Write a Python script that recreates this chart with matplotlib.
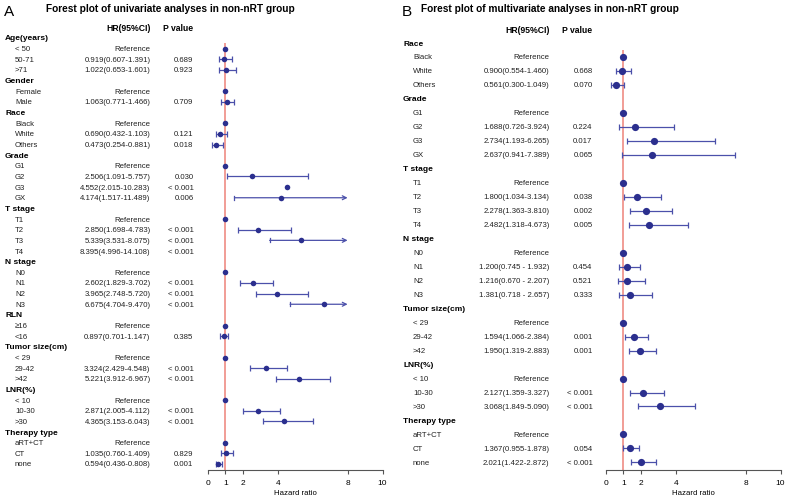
import matplotlib
matplotlib.use("Agg")
import matplotlib.pyplot as plt
from matplotlib.transforms import blended_transform_factory as btf

plt.rcParams['font.family'] = ['Liberation Sans', 'DejaVu Sans']

# ---------------- Panel A: univariate ----------------
a_groups = ["Age(years)", "Gender", "Race", "Grade", "T stage", "N stage",
            "RLN", "Tumor size(cm)", "LNR(%)", "Therapy type"]
a_levels = [["< 50", "50-71", ">71"], ["Female", "Male"],
            ["Black", "White", "Others"], ["G1", "G2", "G3", "GX"],
            ["T1", "T2", "T3", "T4"], ["N0", "N1", "N2", "N3"],
            ["≥16", "<16"], ["< 29", "29-42", ">42"],
            ["< 10", "10-30", ">30"], ["aRT+CT", "CT", "none"]]
a_hr = [[None, 0.919, 1.022], [None, 1.063], [None, 0.690, 0.473],
        [None, 2.506, 4.552, 4.174], [None, 2.850, 5.339, 8.395],
        [None, 2.602, 3.965, 6.675], [None, 0.897], [None, 3.324, 5.221],
        [None, 2.871, 4.365], [None, 1.035, 0.594]]
a_lo = [[None, 0.607, 0.653], [None, 0.771], [None, 0.432, 0.254],
        [None, 1.091, 2.015, 1.517], [None, 1.698, 3.531, 4.996],
        [None, 1.829, 2.748, 4.704], [None, 0.701], [None, 2.429, 3.912],
        [None, 2.005, 3.153], [None, 0.760, 0.436]]
a_hi = [[None, 1.391, 1.601], [None, 1.466], [None, 1.103, 0.881],
        [None, 5.757, 10.283, 11.489], [None, 4.783, 8.075, 14.108],
        [None, 3.702, 5.720, 9.470], [None, 1.147], [None, 4.548, 6.967],
        [None, 4.112, 6.043], [None, 1.409, 0.808]]
a_p = [[None, "0.689", "0.923"], [None, "0.709"], [None, "0.121", "0.018"],
       [None, "0.030", "< 0.001", "0.006"], [None, "< 0.001", "< 0.001", "< 0.001"],
       [None, "< 0.001", "< 0.001", "< 0.001"], [None, "0.385"],
       [None, "< 0.001", "< 0.001"], [None, "< 0.001", "< 0.001"],
       [None, "0.829", "0.001"]]
a_no_ci = ["G3"]          # interval not drawn in the original
a_spaced = []

# ---------------- Panel B: multivariate ----------------
b_groups = ["Race", "Grade", "T stage", "N stage", "Tumor size(cm)",
            "LNR(%)", "Therapy type"]
b_levels = [["Black", "White", "Others"], ["G1", "G2", "G3", "GX"],
            ["T1", "T2", "T3", "T4"], ["N0", "N1", "N2", "N3"],
            ["< 29", "29-42", ">42"], ["< 10", "10-30", ">30"],
            ["aRT+CT", "CT", "none"]]
b_hr = [[None, 0.900, 0.561], [None, 1.688, 2.734, 2.637],
        [None, 1.800, 2.278, 2.482], [None, 1.200, 1.216, 1.381],
        [None, 1.594, 1.950], [None, 2.127, 3.068], [None, 1.367, 2.021]]
b_lo = [[None, 0.554, 0.300], [None, 0.726, 1.193, 0.941],
        [None, 1.034, 1.363, 1.318], [None, 0.745, 0.670, 0.718],
        [None, 1.066, 1.319], [None, 1.359, 1.849], [None, 0.955, 1.422]]
b_hi = [[None, 1.460, 1.049], [None, 3.924, 6.265, 7.389],
        [None, 3.134, 3.810, 4.673], [None, 1.932, 2.207, 2.657],
        [None, 2.384, 2.883], [None, 3.327, 5.090], [None, 1.878, 2.872]]
b_p = [[None, "0.668", "0.070"], [None, "0.224", "0.017", "0.065"],
       [None, "0.038", "0.002", "0.005"], [None, "0.454", "0.521", "0.333"],
       [None, "0.001", "0.001"], [None, "< 0.001", "< 0.001"],
       [None, "0.054", "< 0.001"]]
b_no_ci = []
b_spaced = ["N1", "N2", "N3"]

x_ticks = [0, 1, 2, 4, 8, 10]

W, H = 790, 502
fig = plt.figure(figsize=(W / 100, H / 100), dpi=100)

PT_COL = '#2b2f8e'
CI_COL = '#4b50aa'
REF_COL = '#ef8c84'


def panel(letter, title, groups, levels, hr, lo, hi, pv, no_ci, spaced,
          ax_left, row0, step, x_head, x_sub, x_hr, x_p, title_x, letter_x,
          msize, capsize):
    axis_y = 471
    top_y = 20
    ax = fig.add_axes([ax_left / W, (H - axis_y) / H, 174.5 / W, (axis_y - top_y) / H])
    ybot = (axis_y - row0) / step
    ytop = (top_y - row0) / step
    ax.set_xlim(0, 10)
    ax.set_ylim(ybot, ytop)
    for s in ['top', 'right', 'left']:
        ax.spines[s].set_visible(False)
    ax.spines['bottom'].set_color('#555555')
    ax.spines['bottom'].set_linewidth(0.8)
    ax.set_yticks([])
    ax.set_xticks(x_ticks)
    ax.set_xticklabels([str(t) for t in x_ticks])
    ax.tick_params(axis='x', direction='out', length=3, width=0.8,
                   color='#555555', labelsize=6, pad=3.5)
    ax.set_xlabel("Hazard ratio", fontsize=5.6, labelpad=2)
    ax.patch.set_alpha(0)

    tr = btf(fig.transFigure, ax.transData)
    # header row
    ax.text(x_hr / W, -1, "HR(95%CI)", transform=tr, ha='right', va='center',
            fontsize=6.2, fontweight='bold')
    ax.text(x_p / W, -1, "P value", transform=tr, ha='right', va='center',
            fontsize=6.2, fontweight='bold')
    # title
    fig.text(letter_x / W, 1 - 12 / H, letter, fontsize=11, ha='left', va='center')
    fig.text(title_x / W, 1 - 9.5 / H, title, fontsize=7.3, fontweight='bold',
             ha='left', va='center')

    ax.plot([1, 1], [0.5, ybot], color=REF_COL, lw=1.2, zorder=1,
            solid_capstyle='butt')

    row = 0
    for g, labs, h_, l_, u_, p_ in zip(groups, levels, hr, lo, hi, pv):
        ax.text(x_head / W, row, g, transform=tr, ha='left', va='center',
                fontsize=6.0, fontweight='bold')
        row += 1
        for lab, h, l, u, p in zip(labs, h_, l_, u_, p_):
            ax.text(x_sub / W, row, lab, transform=tr, ha='left', va='center',
                    fontsize=5.6, color='#222222')
            if h is None:
                ax.text(x_hr / W, row, "Reference", transform=tr, ha='right',
                        va='center', fontsize=5.6, color='#222222')
                ax.plot([1], [row], 'o', color=PT_COL, ms=msize, mec='none', zorder=3)
            else:
                sep = " - " if lab in spaced else "-"
                ax.text(x_hr / W, row, f"{h:.3f}({l:.3f}{sep}{u:.3f})",
                        transform=tr, ha='right', va='center', fontsize=5.6,
                        color='#222222')
                ax.text(x_p / W, row, p, transform=tr, ha='right', va='center',
                        fontsize=5.6, color='#222222')
                if h <= 8:
                    if lab not in no_ci:
                        if u > 8:
                            ax.plot([l, l], [row - 0.18 * 10.65 / step, row + 0.18 * 10.65 / step],
                                    color=CI_COL, lw=0.9, zorder=2)
                            ax.annotate("", xy=(8, row), xytext=(l, row),
                                        arrowprops=dict(arrowstyle='->', color=CI_COL,
                                                        lw=0.9, shrinkA=0, shrinkB=0,
                                                        mutation_scale=7))
                        else:
                            ax.errorbar([h], [row], xerr=[[h - l], [u - h]], fmt='none',
                                        ecolor=CI_COL, elinewidth=0.9, capsize=capsize,
                                        capthick=0.9, zorder=2)
                    ax.plot([h], [row], 'o', color=PT_COL, ms=msize, mec='none', zorder=3)
            row += 1
    return ax


panel("A", "Forest plot of univariate analyses in non-nRT group",
      a_groups, a_levels, a_hr, a_lo, a_hi, a_p, a_no_ci, a_spaced,
      ax_left=208, row0=39, step=10.65, x_head=5, x_sub=15, x_hr=150.5,
      x_p=193.5, title_x=45.5, letter_x=4, msize=4.0, capsize=1.9)

panel("B", "Forest plot of multivariate analyses in non-nRT group",
      b_groups, b_levels, b_hr, b_lo, b_hi, b_p, b_no_ci, b_spaced,
      ax_left=606, row0=44, step=13.98, x_head=403, x_sub=413, x_hr=549.5,
      x_p=592.5, title_x=421.5, letter_x=402, msize=5.2, capsize=2.3)

fig.savefig("out.png", dpi=100)
